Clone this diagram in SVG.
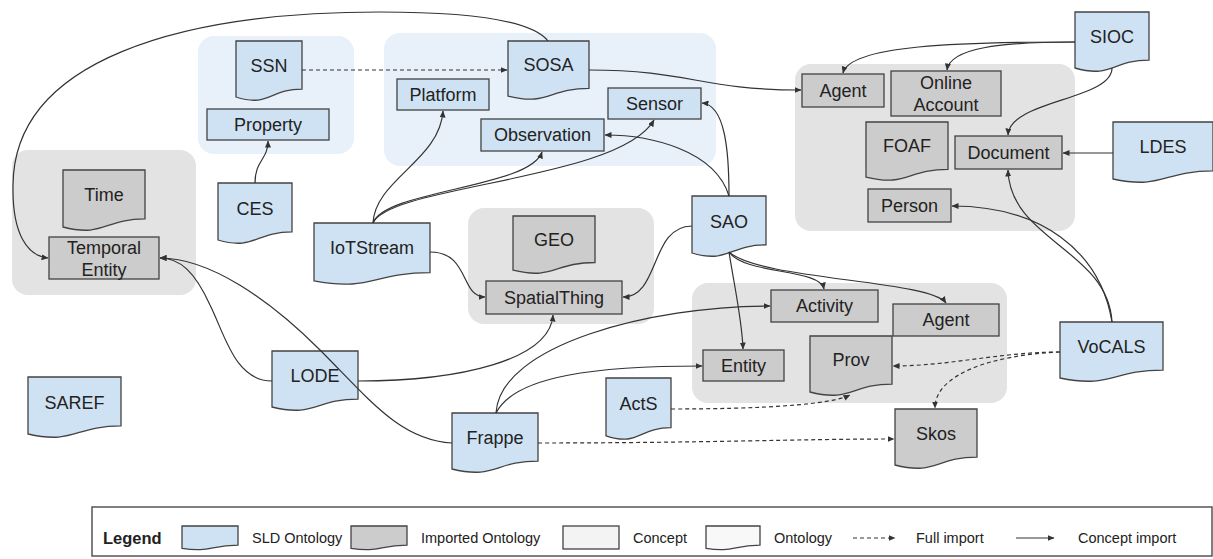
<svg xmlns="http://www.w3.org/2000/svg" width="1213" height="559" viewBox="0 0 1213 559">
<style>
.gb{fill:#e8f0fa}
.gg{fill:#e3e3e3}
.nb{fill:#cfe2f3;stroke:#434343;stroke-width:1.3}
.ng{fill:#cccccc;stroke:#434343;stroke-width:1.3}
.t{font-family:"Liberation Sans",Arial,sans-serif;font-size:18px;fill:#222;text-anchor:middle;dominant-baseline:central}
.lt{font-family:"Liberation Sans",Arial,sans-serif;font-size:14.5px;fill:#222;dominant-baseline:central}
.c{fill:none;stroke:#333;stroke-width:1.2;marker-end:url(#ah)}
.d{stroke-dasharray:4,3}
</style>
<defs>
<marker id="ah" viewBox="0 0 7 6" refX="6.5" refY="3" markerWidth="7" markerHeight="6" markerUnits="userSpaceOnUse" orient="auto">
<path d="M0,0 L7,3 L0,6 z" fill="#333"/>
</marker>
</defs>
<rect width="1213" height="559" fill="#ffffff"/>
<g id="groups">
<rect class="gg" x="12" y="150" width="184" height="145" rx="16"/>
<rect class="gb" x="198" y="36" width="156" height="118" rx="16"/>
<rect class="gb" x="384" y="33" width="332" height="133" rx="16"/>
<rect class="gg" x="468" y="208" width="186" height="116" rx="16"/>
<rect class="gg" x="795" y="64" width="280" height="167" rx="16"/>
<rect class="gg" x="692" y="283" width="315" height="120" rx="16"/>
</g>
<g id="n-ssn"><path class="nb" d="M236,41 H302 V89.1 C269,89.1 269,107.5 236,97 Z"/><text class="t" x="269" y="66">SSN</text></g>
<g id="n-sosa"><path class="nb" d="M508,41 H589 V88.3 C548.5,88.3 548.5,106.3 508,96.1 Z"/><text class="t" x="548.5" y="65">SOSA</text></g>
<g id="n-ces"><path class="nb" d="M218,183 H292 V231.9 C255,231.9 255,250.6 218,240 Z"/><text class="t" x="255" y="209">CES</text></g>
<g id="n-iotstream"><path class="nb" d="M314,223 H430 V272.7 C372,272.7 372,291.7 314,280.9 Z"/><text class="t" x="372" y="248">IoTStream</text></g>
<g id="n-sao"><path class="nb" d="M692,196 H766 V244.9 C729,244.9 729,263.6 692,253 Z"/><text class="t" x="729" y="222">SAO</text></g>
<g id="n-sioc"><path class="nb" d="M1075,12 H1149 V60.1 C1112,60.1 1112,78.5 1075,68 Z"/><text class="t" x="1112" y="37">SIOC</text></g>
<g id="n-ldes"><path class="nb" d="M1113,122 H1213 V170.9 C1163,170.9 1163,189.6 1113,179 Z"/><text class="t" x="1163" y="147">LDES</text></g>
<g id="n-lode"><path class="nb" d="M272,351 H358 V399.1 C315,399.1 315,417.5 272,407 Z"/><text class="t" x="315" y="376">LODE</text></g>
<g id="n-frappe"><path class="nb" d="M452,413 H538 V461.1 C495,461.1 495,479.5 452,469 Z"/><text class="t" x="495" y="438">Frappe</text></g>
<g id="n-acts"><path class="nb" d="M606,378 H671 V427.7 C638.5,427.7 638.5,446.7 606,435.9 Z"/><text class="t" x="638.5" y="404">ActS</text></g>
<g id="n-vocals"><path class="nb" d="M1060,322 H1163 V370.1 C1111.5,370.1 1111.5,388.5 1060,378 Z"/><text class="t" x="1111.5" y="347">VoCALS</text></g>
<g id="n-saref"><path class="nb" d="M28,377 H121 V425.9 C74.5,425.9 74.5,444.6 28,434 Z"/><text class="t" x="74.5" y="403">SAREF</text></g>
<g id="n-time"><path class="ng" d="M63,170 H145 V218.9 C104,218.9 104,237.6 63,227 Z"/><text class="t" x="104" y="195">Time</text></g>
<g id="n-geo"><path class="ng" d="M513,216 H595 V262.5 C554,262.5 554,280.2 513,270.2 Z"/><text class="t" x="554" y="240">GEO</text></g>
<g id="n-foaf"><path class="ng" d="M866,122 H948 V169.3 C907,169.3 907,187.3 866,177.1 Z"/><text class="t" x="907" y="146">FOAF</text></g>
<g id="n-prov"><path class="ng" d="M810,336 H892 V384.1 C851,384.1 851,402.5 810,392 Z"/><text class="t" x="851" y="360">Prov</text></g>
<g id="n-skos"><path class="ng" d="M895,409 H977 V457.1 C936,457.1 936,475.5 895,465 Z"/><text class="t" x="936" y="434">Skos</text></g>
<g id="n-platform"><rect class="nb" x="397" y="79" width="92" height="31"/><text class="t" x="443" y="94.5">Platform</text></g>
<g id="n-sensor"><rect class="nb" x="608" y="88" width="93" height="31"/><text class="t" x="654.5" y="103.5">Sensor</text></g>
<g id="n-observation"><rect class="nb" x="481" y="119" width="123" height="32"/><text class="t" x="542.5" y="135">Observation</text></g>
<g id="n-property"><rect class="nb" x="207" y="109" width="122" height="31"/><text class="t" x="268" y="124.5">Property</text></g>
<g id="n-temporalentity"><rect class="ng" x="49" y="237" width="110" height="42"/><text class="t" x="104" y="248">Temporal</text><text class="t" x="104" y="270">Entity</text></g>
<g id="n-spatialthing"><rect class="ng" x="486" y="281" width="136" height="33"/><text class="t" x="554" y="297.5">SpatialThing</text></g>
<g id="n-agent-foaf"><rect class="ng" x="802" y="74" width="82" height="33"/><text class="t" x="843" y="90.5">Agent</text></g>
<g id="n-onlineaccount"><rect class="ng" x="891" y="71" width="110" height="45"/><text class="t" x="946" y="83">Online</text><text class="t" x="946" y="105">Account</text></g>
<g id="n-document"><rect class="ng" x="955" y="136" width="107" height="33"/><text class="t" x="1008.5" y="152.5">Document</text></g>
<g id="n-person"><rect class="ng" x="868" y="189" width="83" height="33"/><text class="t" x="909.5" y="205.5">Person</text></g>
<g id="n-activity"><rect class="ng" x="771" y="290" width="107" height="32"/><text class="t" x="824.5" y="306">Activity</text></g>
<g id="n-agent-prov"><rect class="ng" x="893" y="304" width="106" height="32"/><text class="t" x="946" y="320">Agent</text></g>
<g id="n-entity"><rect class="ng" x="703" y="350" width="81" height="31"/><text class="t" x="743.5" y="365.5">Entity</text></g>
<g id="connectors">
<path class="c d" d="M302,70 L507,70"/>
<path class="c" d="M548,41 C530,18 460,12 380,12 C180,12 14,60 13,185 C12,235 28,256 48,258"/>
<path class="c" d="M589,70 C690,70 700,90 801,90"/>
<path class="c" d="M1075,42 C960,42 850,45 843,73"/>
<path class="c" d="M1075,42 C1000,42 950,48 947,70"/>
<path class="c" d="M1112,68 C1112,100 1010,100 1008,135"/>
<path class="c" d="M1113,153 L1063,153"/>
<path class="c" d="M1112,322 C1108,250 1010,240 1008,170"/>
<path class="c" d="M1112,322 C1100,250 1040,206 952,206"/>
<path class="c d" d="M1060,352 C1000,352 950,366 893,366"/>
<path class="c d" d="M1060,352 C990,355 935,375 935,408"/>
<path class="c d" d="M671,409 C760,409 830,405 850,395"/>
<path class="c d" d="M538,443 C700,443 800,439 894,439"/>
<path class="c" d="M496,413 C500,345 650,306 770,306"/>
<path class="c" d="M496,413 C515,375 600,366 702,366"/>
<path class="c" d="M358,381 C460,381 550,360 553,315"/>
<path class="c" d="M272,381 C235,381 225,335 210,305 C195,272 180,258 160,258"/>
<path class="c" d="M452,443 C400,440 370,400 320,350 C270,300 210,258 160,258"/>
<path class="c" d="M373,223 C375,180 440,160 443,111"/>
<path class="c" d="M373,223 C385,190 530,188 542,152"/>
<path class="c" d="M373,223 C390,185 620,180 654,120"/>
<path class="c" d="M729,196 C729,150 725,105 702,103"/>
<path class="c" d="M729,196 C715,150 650,135 605,135"/>
<path class="c" d="M692,226 C650,226 660,297 623,297"/>
<path class="c" d="M430,252 C470,252 460,297 485,297"/>
<path class="c" d="M729,252 C735,290 742,320 743,349"/>
<path class="c" d="M729,252 C745,275 820,268 824,289"/>
<path class="c" d="M729,252 C760,280 930,280 946,303"/>
<path class="c" d="M255,183 C255,160 268,160 268,141"/>
</g>
<g id="legend">
<rect x="92" y="507" width="1120" height="49" fill="#ffffff" stroke="#555" stroke-width="1.5"/>
<text class="lt" x="103" y="538" style="font-weight:bold;font-size:16.5px">Legend</text>
<path class="nb" d="M182,526 H238 V545.2 C210,545.2 210,552.6 182,548.4 Z"/>
<text class="lt" x="252" y="538">SLD Ontology</text>
<path class="ng" d="M351,526 H407 V545.2 C379,545.2 379,552.6 351,548.4 Z"/>
<text class="lt" x="421" y="538">Imported Ontology</text>
<rect x="563" y="526" width="56" height="23" fill="#f3f3f3" stroke="#434343" stroke-width="1.3"/>
<text class="lt" x="633" y="538">Concept</text>
<path d="M706,526 H760 V545.2 C733,545.2 733,552.6 706,548.4 Z" fill="#f8f8f8" stroke="#434343" stroke-width="1.3"/>
<text class="lt" x="774" y="538">Ontology</text>
<path class="c d" d="M853,538 L895,538"/>
<text class="lt" x="916" y="538">Full import</text>
<path class="c" d="M1016,538 L1054,538"/>
<text class="lt" x="1078" y="538">Concept import</text>
</g>
</svg>
